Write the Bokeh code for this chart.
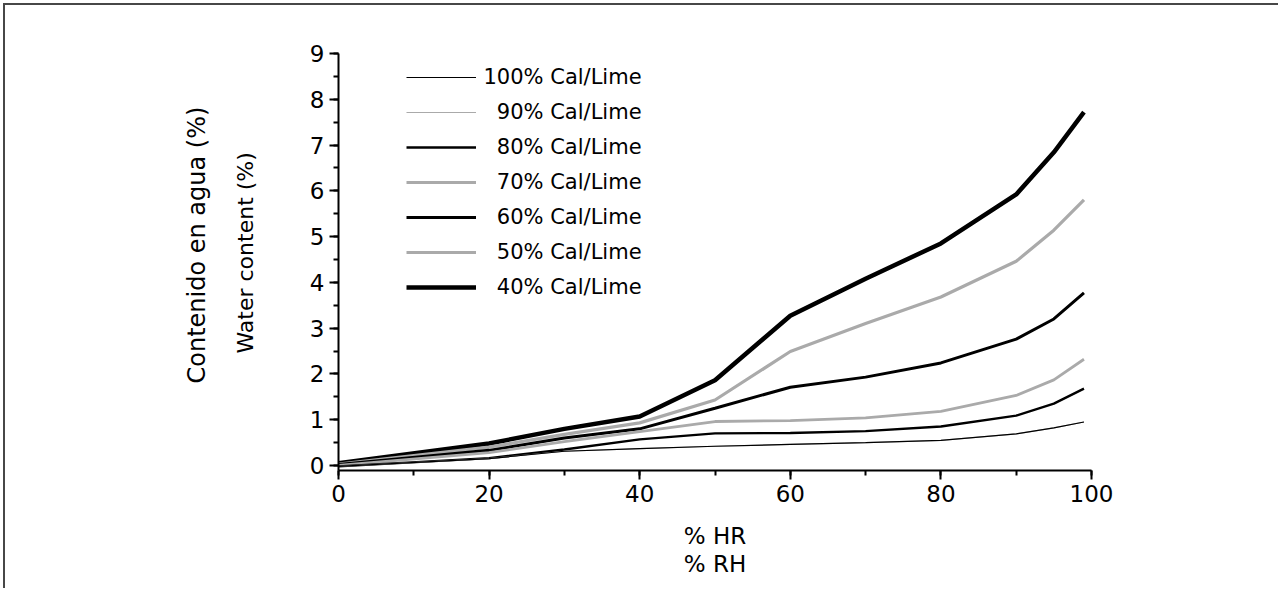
from bokeh.plotting import figure
from bokeh.models import Legend, LegendItem, Title, SingleIntervalTicker, Range1d
from bokeh.embed import file_html
from bokeh.resources import INLINE

# Relative humidity (%)
rh = [0, 20, 30, 40, 50, 60, 70, 80, 90, 95, 99]

# Water content (%) for each lime proportion
lime_100 = [-0.02, 0.15, 0.31, 0.37, 0.42, 0.46, 0.50, 0.55, 0.69, 0.82, 0.95]
lime_90 = [-0.02, 0.15, 0.31, 0.37, 0.42, 0.46, 0.50, 0.55, 0.69, 0.82, 0.95]
lime_80 = [-0.02, 0.16, 0.35, 0.57, 0.70, 0.71, 0.75, 0.85, 1.09, 1.35, 1.68]
lime_70 = [0.00, 0.28, 0.52, 0.74, 0.96, 0.98, 1.04, 1.18, 1.53, 1.87, 2.32]
lime_60 = [0.02, 0.33, 0.60, 0.80, 1.25, 1.71, 1.93, 2.24, 2.76, 3.20, 3.77]
lime_50 = [0.03, 0.40, 0.68, 0.93, 1.43, 2.49, 3.10, 3.68, 4.46, 5.14, 5.80]
lime_40 = [0.05, 0.48, 0.80, 1.07, 1.86, 3.27, 4.08, 4.85, 5.92, 6.84, 7.72]

labels = ["100% Cal/Lime", "90% Cal/Lime", "80% Cal/Lime", "70% Cal/Lime",
          "60% Cal/Lime", "50% Cal/Lime", "40% Cal/Lime"]

FONT = "DejaVu Sans"
GRAY = "#aaaaaa"

p = figure(width=1275, height=585, output_backend="svg", toolbar_location=None,
           x_range=Range1d(0, 100), y_range=Range1d(-0.11, 9),
           min_border_left=333, min_border_right=189, min_border_top=48,
           min_border_bottom=120)
p.styles = {"margin-left": "3px", "margin-top": "3px",
            "border-left": "2px solid #474747", "border-top": "2px solid #474747"}
p.grid.visible = False
p.outline_line_color = None
p.background_fill_color = "white"
p.border_fill_color = "white"

p.xaxis.ticker = SingleIntervalTicker(interval=20, num_minor_ticks=2)
p.yaxis.ticker = SingleIntervalTicker(interval=1, num_minor_ticks=2)
for ax in (p.xaxis[0], p.yaxis[0]):
    ax.axis_line_width = 2
    ax.axis_line_color = "black"
    ax.major_tick_line_width = 2
    ax.minor_tick_line_width = 2
    ax.major_tick_line_color = "black"
    ax.minor_tick_line_color = "black"
    ax.major_tick_in = 0
    ax.major_tick_out = 9
    ax.minor_tick_in = 0
    ax.minor_tick_out = 5
    ax.major_label_text_font = FONT
    ax.major_label_text_font_size = "23px"
    ax.major_label_text_color = "black"
    ax.major_label_standoff = 5

p.xaxis.axis_label = "% HR\n% RH"
p.xaxis.axis_label_text_font = FONT
p.xaxis.axis_label_text_font_size = "23px"
p.xaxis.axis_label_text_font_style = "normal"
p.xaxis.axis_label_text_color = "black"
p.xaxis.axis_label_text_line_height = 1.1
p.xaxis.axis_label_standoff = 18

styles = [
    (lime_40, "black", 4.5),
    (lime_50, GRAY, 3.2),
    (lime_60, "black", 3.0),
    (lime_70, GRAY, 2.8),
    (lime_80, "black", 2.4),
    (lime_90, GRAY, 1.2),
    (lime_100, "black", 1.2),
]
renderers = []
for ys, color, w in styles:
    renderers.append(p.line(rh, ys, line_color=color, line_width=w))
renderers = renderers[::-1]  # 100% ... 40%

pads = ["", "  ", "  ", "  ", "  ", "  ", "  "]
items = [LegendItem(label=pad + lab, renderers=[r]) for pad, lab, r in zip(pads, labels, renderers)]
legend = Legend(items=items, location=(67.5, 171), orientation="vertical",
                label_text_font=FONT, label_text_font_size="21px", label_text_color="black",
                glyph_width=70, glyph_height=24, label_height=24, spacing=11,
                label_standoff=8, padding=0, margin=0, border_line_color=None,
                background_fill_alpha=0)
p.add_layout(legend, "center")

t_water = Title(text="Water content (%)", align="left", offset=117, standoff=97,
                text_font=FONT, text_font_size="22px", text_font_style="normal",
                text_color="black")
t_cont = Title(text="Contenido en agua (%)", align="left", offset=87, standoff=-56,
               text_font=FONT, text_font_size="24px", text_font_style="normal",
               text_color="black")
p.add_layout(t_water, "left")
p.add_layout(t_cont, "left")

open("out.html", "w").write(file_html(p, INLINE))
